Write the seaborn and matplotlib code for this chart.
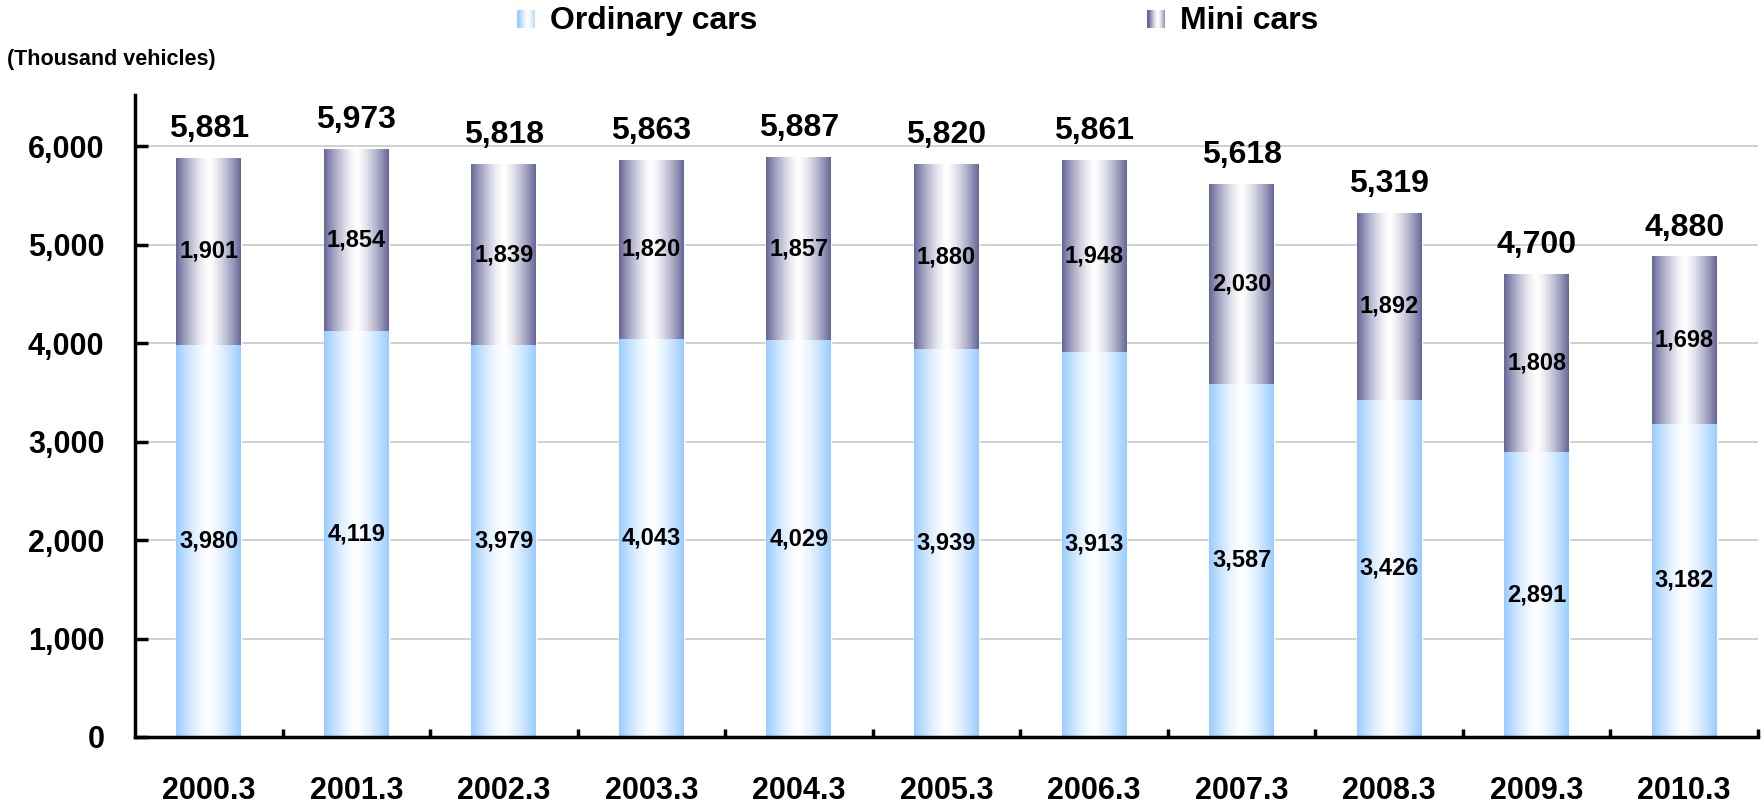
import numpy as np
import matplotlib
matplotlib.use("Agg")
import matplotlib.pyplot as plt
import seaborn as sns

# Data (thousand vehicles)
years = ["2000.3", "2001.3", "2002.3", "2003.3", "2004.3", "2005.3",
         "2006.3", "2007.3", "2008.3", "2009.3", "2010.3"]
ordinary = [3980, 4119, 3979, 4043, 4029, 3939, 3913, 3587, 3426, 2891, 3182]
mini = [1901, 1854, 1839, 1820, 1857, 1880, 1948, 2030, 1892, 1808, 1698]
totals = [5881, 5973, 5818, 5863, 5887, 5820, 5861, 5618, 5319, 4700, 4880]

sns.set_theme(style="white")
plt.rcParams['font.family'] = ['Liberation Sans', 'DejaVu Sans']
plt.rcParams['font.weight'] = 'bold'
for k in ['text.color', 'axes.labelcolor', 'xtick.color', 'ytick.color']:
    plt.rcParams[k] = 'black'

ordinary_edge = np.array([0.60, 0.80, 1.00])
mini_edge = np.array([0.40, 0.40, 0.60])


def gradient(edge, n=200, centre=0.5, power=1.4):
    # horizontal "cylinder" shading: coloured edges, white middle
    u = np.linspace(0, 1, n)
    w = 1 - np.clip(np.abs(u - centre) / 0.5, 0, 1) ** power
    cols = edge[None, :] + (1 - edge[None, :]) * w[:, None]
    return cols[None, :, :]


fig = plt.figure(figsize=(17.65, 8.05), dpi=100)
ax = fig.add_axes([0.0765, 0.0845, 0.9195, 0.7975])

# mini cars drawn as the full stack, ordinary cars drawn over its lower part
sns.barplot(x=years, y=totals, color=mini_edge, width=0.44, errorbar=None,
            saturation=1, ax=ax)
sns.barplot(x=years, y=ordinary, color=ordinary_edge, width=0.44, errorbar=None,
            saturation=1, ax=ax)

n = len(years)
patches = list(ax.patches)
for i, p in enumerate(patches):
    edge = mini_edge if i < n else ordinary_edge
    x0, y0 = p.get_x(), p.get_y()
    w, h = p.get_width(), p.get_height()
    img = ax.imshow(gradient(edge), extent=(x0, x0 + w, y0, y0 + h),
                    aspect='auto', interpolation='bilinear',
                    zorder=2.1 if i < n else 2.2)
    img.set_clip_path(p)

ax.set_xlim(-0.5, n - 0.5)
ax.set_ylim(0, 6520)
ax.set_yticks(range(0, 7000, 1000))
ax.set_yticklabels([f"{v:,}" for v in range(0, 7000, 1000)], fontsize=22,
                   fontweight='bold')
ax.set_xticks(range(n))
ax.set_xticklabels(years, fontsize=22, fontweight='bold')
ax.set_xticks(np.arange(0.5, n, 1), minor=True)

ax.grid(axis='y', color='#c8c8c8', linewidth=1.2)
ax.set_axisbelow(True)
for s in ['top', 'right']:
    ax.spines[s].set_visible(False)
for s in ['left', 'bottom']:
    ax.spines[s].set_color('black')
    ax.spines[s].set_linewidth(2.5)
ax.tick_params(axis='y', direction='in', length=9, width=2.5, pad=22,
               left=True, colors='black')
ax.tick_params(axis='x', which='major', length=0, pad=28, colors='black')
ax.tick_params(axis='x', which='minor', direction='in', length=6, width=2.5,
               bottom=True, color='black')
ax.set_xlabel("")
ax.set_ylabel("")

# value labels
for i in range(n):
    ax.text(i, ordinary[i] / 2, f"{ordinary[i]:,}", ha='center', va='center',
            fontsize=17, fontweight='bold', zorder=5)
    ax.text(i, ordinary[i] + mini[i] / 2, f"{mini[i]:,}", ha='center',
            va='center', fontsize=17, fontweight='bold', zorder=5)
    ax.annotate(f"{totals[i]:,}", (i, totals[i]), xytext=(0, 10),
                textcoords='offset points', ha='center', va='bottom',
                fontsize=23, fontweight='bold', zorder=5)

fig.text(7 / 1765, 1 - 60 / 805, "(Thousand vehicles)", fontsize=15.5,
         fontweight='bold', va='center', ha='left')

# legend with small shaded swatches
for lx, tx, edge, label in [(517, 550, ordinary_edge, "Ordinary cars"),
                            (1147, 1180, mini_edge, "Mini cars")]:
    sw = fig.add_axes([lx / 1765, 1 - 28 / 805, 18 / 1765, 18 / 805])
    sw.imshow(gradient(edge, centre=0.6), aspect='auto', interpolation='bilinear')
    sw.axis('off')
    fig.text(tx / 1765, 1 - 21 / 805, label, fontsize=23,
             fontweight='bold', va='center', ha='left')

fig.savefig("out.png", dpi=100)
